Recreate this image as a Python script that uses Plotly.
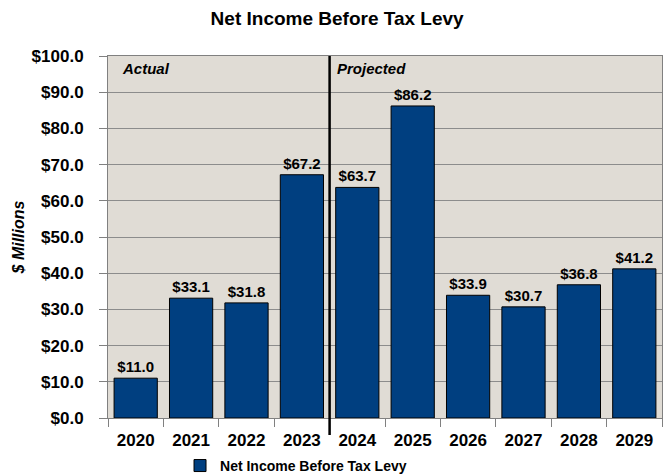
import plotly.graph_objects as go

years = ["2020", "2021", "2022", "2023", "2024", "2025", "2026", "2027", "2028", "2029"]
net_income = [11.0, 33.1, 31.8, 67.2, 63.7, 86.2, 33.9, 30.7, 36.8, 41.2]
y_ticks = [0, 10, 20, 30, 40, 50, 60, 70, 80, 90, 100]

FONT = "Liberation Sans, Arial, sans-serif"

fig = go.Figure()
fig.add_trace(go.Bar(
    x=years,
    y=net_income,
    name="<b>Net Income Before Tax Levy</b>",
    marker=dict(color="#003F80", line=dict(color="#000000", width=1)),
    width=0.78,
    text=[f"<b>${v:.1f}</b>" for v in net_income],
    textposition="outside",
    textfont=dict(family=FONT, size=15, color="#000000"),
    cliponaxis=False,
))

# Divider between actual and projected years
fig.add_shape(type="line", xref="x", yref="paper", x0=3.5, x1=3.5, y0=-0.047, y1=1,
              line=dict(color="#000000", width=2.5))

fig.add_annotation(text="<b><i>Actual</i></b>", xref="paper", yref="paper", x=0.022, y=0.995,
                   xanchor="left", yanchor="top", showarrow=False,
                   font=dict(family=FONT, size=15, color="#000000"))
fig.add_annotation(text="<b><i>Projected</i></b>", xref="paper", yref="paper", x=0.41, y=0.995,
                   xanchor="left", yanchor="top", showarrow=False,
                   font=dict(family=FONT, size=15, color="#000000"))

fig.update_layout(
    width=665, height=474,
    margin=dict(l=108, r=3, t=56, b=56),
    paper_bgcolor="#FFFFFF",
    plot_bgcolor="#E0DCD5",
    title=dict(text="<b>Net Income Before Tax Levy</b>", x=0.507, xanchor="center", y=0.962,
               yanchor="middle", font=dict(family=FONT, size=19, color="#000000")),
    showlegend=True,
    legend=dict(orientation="h", x=0.13, y=0.017, xanchor="left", yanchor="middle",
                yref="container",
                font=dict(family=FONT, size=14, color="#000000"), itemwidth=30,
                bgcolor="rgba(0,0,0,0)"),
    bargap=0.22,
)
fig.update_xaxes(
    type="category",
    automargin=False,
    tickfont=dict(family=FONT, size=17, color="#000000"),
    tickprefix="<b>", ticksuffix="</b>",
    ticks="outside", ticklen=8, tickcolor="#808080", tickson="boundaries",
    ticklabelstandoff=7,
    showline=True, linecolor="#808080", linewidth=1, mirror=True,
    showgrid=False,
)
fig.update_yaxes(
    range=[0, 100],
    automargin=False,
    tickvals=y_ticks,
    ticktext=[f"<b>${v:.1f}</b>" for v in y_ticks],
    tickfont=dict(family=FONT, size=17, color="#000000"),
    ticks="outside", ticklen=8, tickcolor="#808080",
    ticklabelstandoff=12,
    showline=True, linecolor="#808080", linewidth=1, mirror=True,
    showgrid=True, gridcolor="#8C8C8C", gridwidth=1,
    zeroline=False,
    title=dict(text="<b><i>$ Millions</i></b>", font=dict(family=FONT, size=16, color="#000000"),
               standoff=2),
)

fig.write_html("out.html")
